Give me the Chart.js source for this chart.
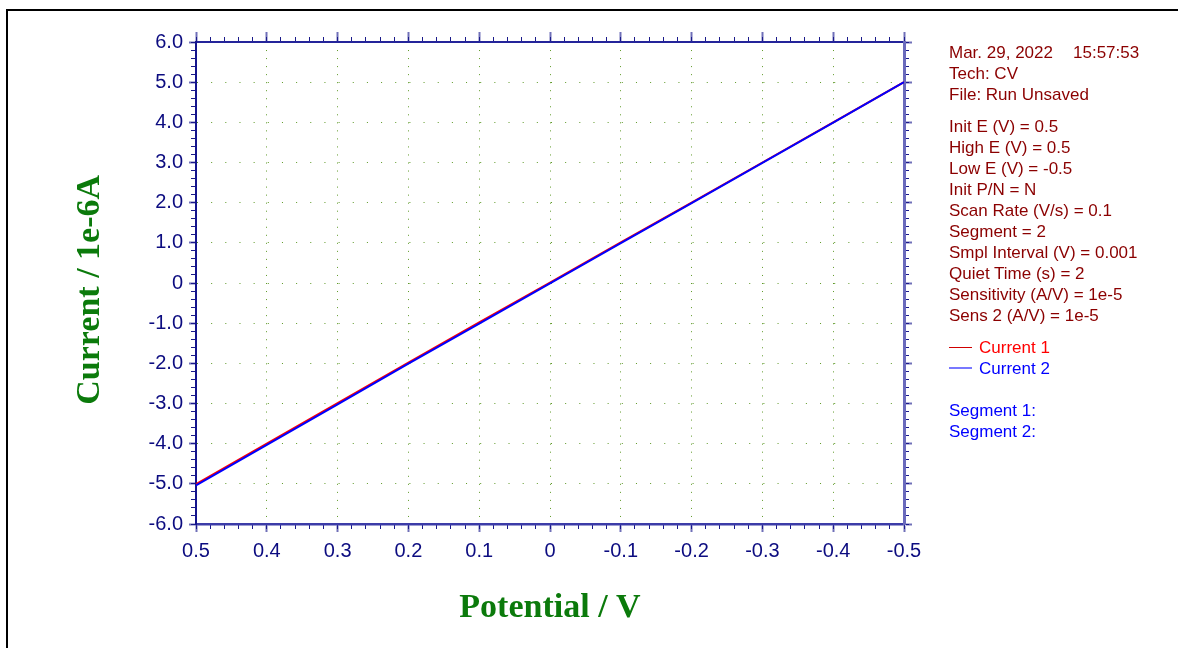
<!DOCTYPE html>
<html><head><meta charset="utf-8">
<script src="https://cdn.jsdelivr.net/npm/chart.js@4/dist/chart.umd.min.js"></script>
<style>
html,body{margin:0;padding:0;background:#fff;}
#wrap{position:relative;width:1180px;height:648px;overflow:hidden;background:#fff;}
#frame{position:absolute;left:6px;top:9px;width:1170px;height:700px;border-top:2px solid #000;border-left:2px solid #000;}
canvas{position:absolute;left:0;top:0;}
.t{position:absolute;left:949px;font-family:"Liberation Sans",Arial,sans-serif;font-size:17px;line-height:21px;height:21px;white-space:pre;}
.lg{position:absolute;left:949px;width:23px;}
</style></head>
<body><div id="wrap"><div id="frame"></div><canvas id="c" width="1180" height="648"></canvas><div id="info"></div></div>
<script>
// ---- data ----
const potentials = [0.5, 0.4, 0.3, 0.2, 0.1, 0.0, -0.1, -0.2, -0.3, -0.4, -0.5];
const current1 = [-5.01, -4.0, -2.99, -1.98, -0.98, 0.01, 1.01, 2.0, 3.0, 4.0, 5.0];
const current2 = [-5.04, -4.03, -3.02, -2.01, -1.01, -0.01, 0.99, 1.99, 2.99, 3.99, 5.0];
const xTickValues = [0.5, 0.4, 0.3, 0.2, 0.1, 0, -0.1, -0.2, -0.3, -0.4, -0.5];
const xTickLabels = ["0.5","0.4","0.3","0.2","0.1","0","-0.1","-0.2","-0.3","-0.4","-0.5"];
const yTickValues = [6, 5, 4, 3, 2, 1, 0, -1, -2, -3, -4, -5, -6];
const yTickLabels = ["6.0","5.0","4.0","3.0","2.0","1.0","0","-1.0","-2.0","-3.0","-4.0","-5.0","-6.0"];
const seriesNames = ["Current 1", "Current 2"];
const seriesColors = ["#ff0000", "#0000ff"];
const headerLines = ["Tech: CV", "File: Run Unsaved"];
const headerDate = "Mar. 29, 2022";
const headerTime = "15:57:53";
const paramLines = ["Init E (V) = 0.5","High E (V) = 0.5","Low E (V) = -0.5","Init P/N = N","Scan Rate (V/s) = 0.1","Segment = 2","Smpl Interval (V) = 0.001","Quiet Time (s) = 2","Sensitivity (A/V) = 1e-5","Sens 2 (A/V) = 1e-5"];
const segmentLines = ["Segment 1:", "Segment 2:"];
const xTitle = "Potential / V";
const yTitle = "Current / 1e-6A";

// ---- side text ----
const info = document.getElementById('info');
function addText(txt, y, color, left){
  const d = document.createElement('div');
  d.className = 't'; d.textContent = txt; d.style.color = color;
  d.style.top = (y - 10.5) + 'px';
  if (left) d.style.left = left + 'px';
  info.appendChild(d);
}
const infoColor = '#8b0000';
addText(headerDate, 52, infoColor);
addText(headerTime, 52, infoColor, 1073);
headerLines.forEach((t,i)=>addText(t, 73 + 21*i, infoColor));
paramLines.forEach((t,i)=>addText(t, 126 + 21*i, infoColor));
seriesNames.forEach((t,i)=>{
  addText(t, 347 + 21*i, seriesColors[i], 979);
  const l = document.createElement('div');
  l.className = 'lg';
  l.style.top = (347 + 21*i - (i?1:0.5)) + 'px';
  l.style.height = (i?2:1) + 'px';
  l.style.background = i ? '#7878ff' : '#d00000';
  info.appendChild(l);
});
segmentLines.forEach((t,i)=>addText(t, 410 + 21*i, '#0000ff'));

// ---- chart ----
const navy = '#0c0c80';
const majorTick = '#7070b8';
const minorTick = '#1a1a8a';
const gridCol = '#5f9a28';
const tickFont = {family: '"Liberation Sans", Arial, sans-serif', size: 20};
const titleFont = {family: '"Liberation Serif", "Times New Roman", serif', size: 34, weight: 'bold'};
const titleColor = '#0b7a0b';
const X_PERIOD = 708 / 50, Y_PERIOD = 482 / 60;

function zeroH(s){ s.height = 0; }
function zeroW(s){ s.width = 0; }

new Chart(document.getElementById('c'), {
  type: 'scatter',
  data: {
    datasets: [
      {label: seriesNames[0], order: 2, data: potentials.map((p,i)=>({x:p, y:current1[i]})), borderColor: seriesColors[0], backgroundColor: seriesColors[0], showLine: true, pointRadius: 0, borderWidth: 2},
      {label: seriesNames[1], order: 1, data: potentials.map((p,i)=>({x:p, y:current2[i]})), borderColor: seriesColors[1], backgroundColor: seriesColors[1], showLine: true, pointRadius: 0, borderWidth: 2}
    ]
  },
  options: {
    responsive: false, animation: false, devicePixelRatio: 1,
    layout: {padding: {left: 60, right: 276, top: 42, bottom: 17}},
    plugins: {legend: {display: false}, tooltip: {enabled: false}},
    scales: {
      x: {
        type: 'linear', position: 'bottom', reverse: true, min: -0.5, max: 0.5, weight: 1,
        afterBuildTicks: s => { s.ticks = xTickValues.map(v => ({value: v})); },
        afterFit: s => { s.height = 107; },
        ticks: {autoSkip: false, maxRotation: 0, color: navy, font: tickFont, padding: 7,
          callback: v => xTickLabels[xTickValues.indexOf(v)]},
        grid: {color: gridCol, lineWidth: 1, tickLength: 8, tickColor: majorTick, tickWidth: 2},
        border: {color: '#3c3ca8', width: 2.5, dash: [1, Y_PERIOD - 1]},
        title: {display: true, text: xTitle, color: titleColor, font: titleFont, padding: {top: 0, bottom: 2}}
      },
      xm: {
        type: 'linear', position: 'bottom', reverse: true, min: -0.5, max: 0.5, weight: 0,
        afterFit: zeroH,
        ticks: {display: false, stepSize: 0.02},
        grid: {drawOnChartArea: false, tickLength: 5, tickColor: minorTick, tickWidth: 1},
        border: {display: false}
      },
      xt: {
        type: 'linear', position: 'top', reverse: true, min: -0.5, max: 0.5, weight: 1,
        afterBuildTicks: s => { s.ticks = xTickValues.map(v => ({value: v})); },
        afterFit: zeroH,
        ticks: {display: false},
        grid: {drawOnChartArea: false, tickLength: 10, tickColor: majorTick, tickWidth: 2},
        border: {color: '#24249a', width: 2}
      },
      xtm: {
        type: 'linear', position: 'top', reverse: true, min: -0.5, max: 0.5, weight: 0,
        afterFit: zeroH,
        ticks: {display: false, stepSize: 0.02},
        grid: {drawOnChartArea: false, tickLength: 5, tickColor: minorTick, tickWidth: 1},
        border: {display: false}
      },
      y: {
        type: 'linear', position: 'left', min: -6, max: 6, weight: 1,
        afterBuildTicks: s => { s.ticks = yTickValues.map(v => ({value: v})); },
        afterFit: s => { s.width = 136; },
        ticks: {autoSkip: false, color: navy, font: tickFont, padding: 6,
          callback: v => yTickLabels[yTickValues.indexOf(v)]},
        grid: {color: gridCol, lineWidth: 1, tickLength: 7, tickColor: majorTick, tickWidth: 2},
        border: {color: '#14148c', width: 2, dash: [1, X_PERIOD - 1]},
        title: {display: true, text: yTitle + '\u2009\u2009', color: titleColor, font: titleFont, padding: {top: 10, bottom: 0}}
      },
      ym: {
        type: 'linear', position: 'left', min: -6, max: 6, weight: 0,
        afterFit: zeroW,
        ticks: {display: false, stepSize: 0.2},
        grid: {drawOnChartArea: false, tickLength: 5, tickColor: minorTick, tickWidth: 1},
        border: {display: false}
      },
      yr: {
        type: 'linear', position: 'right', min: -6, max: 6, weight: 1,
        afterBuildTicks: s => { s.ticks = yTickValues.map(v => ({value: v})); },
        afterFit: zeroW,
        ticks: {display: false},
        grid: {drawOnChartArea: false, tickLength: 8, tickColor: majorTick, tickWidth: 2},
        border: {color: '#6a6abc', width: 3}
      },
      yrm: {
        type: 'linear', position: 'right', min: -6, max: 6, weight: 0,
        afterFit: zeroW,
        ticks: {display: false, stepSize: 0.2},
        grid: {drawOnChartArea: false, tickLength: 5, tickColor: minorTick, tickWidth: 1},
        border: {display: false}
      }
    }
  }
});
</script>
</body></html>
